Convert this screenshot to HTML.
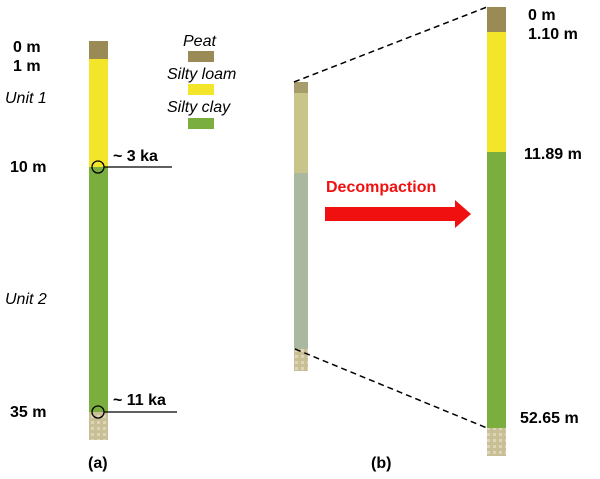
<!DOCTYPE html>
<html><head><style>
body{margin:0;background:#fff;}
svg text{font-family:"Liberation Sans",Arial,sans-serif;}
</style></head><body>
<svg width="600" height="474" viewBox="0 0 600 474" xmlns="http://www.w3.org/2000/svg">
<defs>
<pattern id="pb" width="6" height="6" patternUnits="userSpaceOnUse">
<rect width="6" height="6" fill="#c9bf97"/><rect x="1" y="1" width="3" height="3" fill="#ddd5b5"/>
</pattern>
</defs>
<rect x="89" y="41" width="19" height="18" fill="#9a8a55"/>
<rect x="89" y="59" width="19" height="108" fill="#f2e52a"/>
<rect x="89" y="167" width="19" height="245" fill="#7aae3e"/>
<rect x="89" y="412" width="19" height="28" fill="url(#pb)"/>
<circle cx="98" cy="167" r="6" fill="none" stroke="#000" stroke-width="1.3"/>
<line x1="104" y1="167" x2="172" y2="167" stroke="#000" stroke-width="1.3"/>
<circle cx="98" cy="412" r="6" fill="none" stroke="#000" stroke-width="1.3"/>
<line x1="104" y1="412" x2="177" y2="412" stroke="#000" stroke-width="1.3"/>
<g font-weight="bold" font-size="16">
<text x="13" y="52">0 m</text><text x="13" y="71">1 m</text>
<text x="10" y="172">10 m</text><text x="10" y="417">35 m</text>
<text x="113" y="161">~ 3 ka</text><text x="113" y="405">~ 11 ka</text>
<text x="88" y="468">(a)</text><text x="371" y="468">(b)</text>
<text x="528" y="20">0 m</text><text x="528" y="39">1.10 m</text>
<text x="524" y="159">11.89 m</text><text x="520" y="423">52.65 m</text>
</g>
<g font-style="italic" font-size="16">
<text x="183" y="46">Peat</text><text x="167" y="79">Silty loam</text><text x="167" y="112">Silty clay</text>
<text x="5" y="103">Unit 1</text><text x="5" y="304">Unit 2</text>
</g>
<rect x="188" y="51" width="26" height="11" fill="#9a8a55"/>
<rect x="188" y="84" width="26" height="11" fill="#f2e52a"/>
<rect x="188" y="118" width="26" height="11" fill="#7aae3e"/>
<rect x="294" y="82" width="14" height="11" fill="#a69c6c"/>
<rect x="294" y="93" width="14" height="80" fill="#c9c48a"/>
<rect x="294" y="173" width="14" height="176" fill="#a9b89f"/>
<rect x="294" y="349" width="14" height="22" fill="url(#pb)"/>
<line x1="294" y1="82" x2="487" y2="7" stroke="#000" stroke-width="1.5" stroke-dasharray="6,4"/>
<line x1="295" y1="349" x2="487" y2="428" stroke="#000" stroke-width="1.5" stroke-dasharray="6,4"/>
<rect x="487" y="7" width="19" height="25" fill="#9a8a55"/>
<rect x="487" y="32" width="19" height="120" fill="#f2e52a"/>
<rect x="487" y="152" width="19" height="276" fill="#7aae3e"/>
<rect x="487" y="428" width="19" height="28" fill="url(#pb)"/>
<text x="326" y="192" font-weight="bold" font-size="16" fill="#f01010">Decompaction</text>
<polygon points="325,207 455,207 455,200 471,214 455,228 455,221 325,221" fill="#f01010"/>
</svg>
</body></html>
